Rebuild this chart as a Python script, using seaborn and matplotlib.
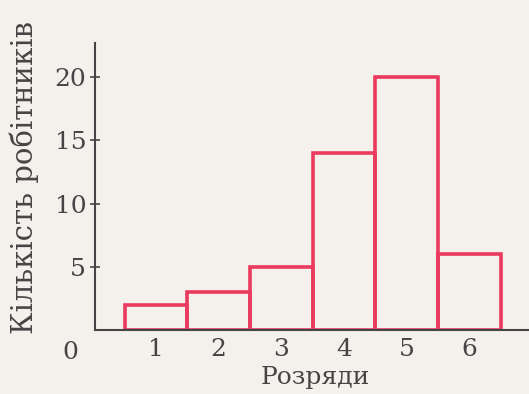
import matplotlib
matplotlib.use("Agg")
import matplotlib.pyplot as plt
import seaborn as sns
import pandas as pd

# data
ranks = [1, 2, 3, 4, 5, 6]
workers = [2, 3, 5, 14, 20, 6]
y_ticks = [5, 10, 15, 20]

bg = "#f4f1ed"
red = "#ea3a5e"
grey = "#454545"


def draw_figure():
    sns.set_theme(style="white")
    plt.rcParams["font.family"] = ["DejaVu Serif"]

    df = pd.DataFrame({"rank": ranks, "count": workers})

    fig = plt.figure(figsize=(5.29, 3.94), dpi=100, facecolor=bg)
    ax = fig.add_axes([0.18, 0.1625, 0.82, 0.728])
    ax.set_facecolor(bg)

    sns.histplot(data=df, x="rank", weights="count", discrete=True,
                 fill=False, color=red, linewidth=2.6, ax=ax)

    ax.set_xlim(0.03, 6.95)
    ax.set_ylim(0, 22.7)
    ax.set_xticks(ranks)
    ax.set_yticks(y_ticks)
    ax.tick_params(axis="x", length=0, pad=6, labelsize=18, labelcolor=grey)
    ax.tick_params(axis="y", direction="inout", length=7, width=1.2,
                   color=grey, pad=3, labelsize=18, labelcolor=grey, left=True)

    for side in ["top", "right"]:
        ax.spines[side].set_visible(False)
    for side in ["left", "bottom"]:
        ax.spines[side].set_color(grey)
        ax.spines[side].set_linewidth(1.5)

    ax.set_xlabel("Розряди", fontsize=18, color=grey)
    ax.xaxis.set_label_coords(0.507, -0.125)
    ax.set_ylabel("Кількість робітників", fontsize=21, color=grey)
    ax.yaxis.set_label_coords(-0.13, 0.53)
    ax.text(-0.36, -1.75, "0", fontsize=18, color=grey,
            ha="center", va="center", clip_on=False)

    fig.savefig("out.png", dpi=100, facecolor=bg)
    plt.close(fig)


draw_figure()
